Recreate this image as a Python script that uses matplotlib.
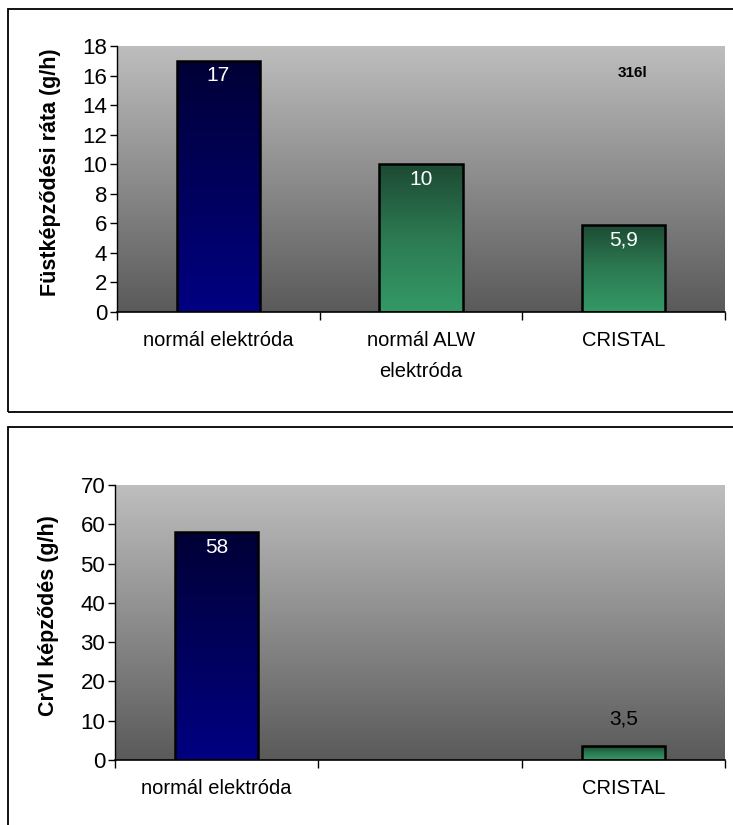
import numpy as np
import matplotlib
matplotlib.use("Agg")
import matplotlib.pyplot as plt
from matplotlib.colors import LinearSegmentedColormap
from matplotlib.patches import Rectangle

plt.rcParams['font.family'] = ['Liberation Sans', 'DejaVu Sans']

# Fume generation rate
fume_categories = ["normál elektróda", "normál ALW\nelektróda", "CRISTAL"]
fume_values = [17, 10, 5.9]
fume_labels = ["17", "10", "5,9"]
fume_styles = ["blue", "green", "green"]

# Cr(VI) generation
crvi_categories = ["normál elektróda", "", "CRISTAL"]
crvi_values = [58, None, 3.5]
crvi_labels = ["58", "", "3,5"]
crvi_styles = ["blue", None, "green"]

W, H = 733, 825
fig = plt.figure(figsize=(W / 100, H / 100), dpi=100)

bg_cmap = LinearSegmentedColormap.from_list("bg", ["#5a5a5a", "#bebebe"])
bar_cmaps = {
    "blue": LinearSegmentedColormap.from_list("b", ["#000082", "#000036"]),
    "green": LinearSegmentedColormap.from_list("g", ["#349966", "#2c7a52", "#1d4a33"]),
}
grad = np.linspace(0, 1, 256).reshape(-1, 1)

# outer frames
for (y0, y1) in [(9, 412), (427, 840)]:
    fig.add_artist(Rectangle((8 / W, 1 - y1 / H), (745 - 8) / W, (y1 - y0) / H,
                             transform=fig.transFigure, fill=False,
                             edgecolor="black", linewidth=1.3))


def panel(rect_px, cats, values, labels, styles, ymax, ystep, ylabel, inside_white):
    x0, y0, x1, y1 = rect_px
    ax = fig.add_axes([x0 / W, 1 - y1 / H, (x1 - x0) / W, (y1 - y0) / H])
    n = len(cats)
    ax.set_xlim(0, n)
    ax.set_ylim(0, ymax)
    ax.imshow(grad, cmap=bg_cmap, origin="lower", aspect="auto",
              extent=[0, n, 0, ymax], zorder=0)
    pos = np.arange(n) + 0.5
    for p, v, lab, st in zip(pos, values, labels, styles):
        if v is None:
            continue
        b = ax.bar(p, v, width=0.41, color="none", edgecolor="black",
                   linewidth=1.8, zorder=3)[0]
        im = ax.imshow(grad, cmap=bar_cmaps[st], origin="lower", aspect="auto",
                       extent=[p - 0.205, p + 0.205, 0, v], zorder=2)
        im.set_clip_path(b)
        if inside_white(v):
            ax.text(p, v - ymax * 0.02, lab, ha="center", va="top",
                    color="white", fontsize=15, zorder=4)
        else:
            ax.text(p, v + ymax * 0.065, lab, ha="center", va="bottom",
                    color="black", fontsize=15, zorder=4)
    ax.set_xticks(np.arange(n + 1))
    ax.set_xticklabels([])
    ax.set_xticks(pos, minor=True)
    ax.set_xticklabels(cats, minor=True, fontsize=14.5, linespacing=1.75)
    ax.tick_params(axis="x", which="minor", length=0, pad=14)
    ax.tick_params(axis="x", which="major", length=6, direction="out", width=1)
    ax.set_yticks(np.arange(0, ymax + 0.1, ystep))
    ax.tick_params(axis="y", labelsize=16, length=5, width=1, pad=2)
    for s in ["top", "right"]:
        ax.spines[s].set_visible(False)
    ax.spines["left"].set_linewidth(1)
    ax.spines["bottom"].set_linewidth(1.2)
    ax.set_ylabel(ylabel, fontsize=15.5, fontweight="bold")
    ax.yaxis.set_label_coords(-0.092 * 608 / (x1 - x0), 0.525)
    ax.set_xlim(0, n)
    return ax


ax1 = panel((117, 46, 725, 312), fume_categories, fume_values, fume_labels,
            fume_styles, 18, 2, "Füstképződési ráta (g/h)", lambda v: True)
ax1.text(0.848, 0.9, "316l", transform=ax1.transAxes, fontsize=11,
         fontweight="bold", ha="center", va="center", zorder=5)

ax2 = panel((115, 485, 725, 760), crvi_categories, crvi_values, crvi_labels,
            crvi_styles, 70, 10, "CrVI képződés (g/h)", lambda v: v > 10)

fig.savefig("out.png", dpi=100)
